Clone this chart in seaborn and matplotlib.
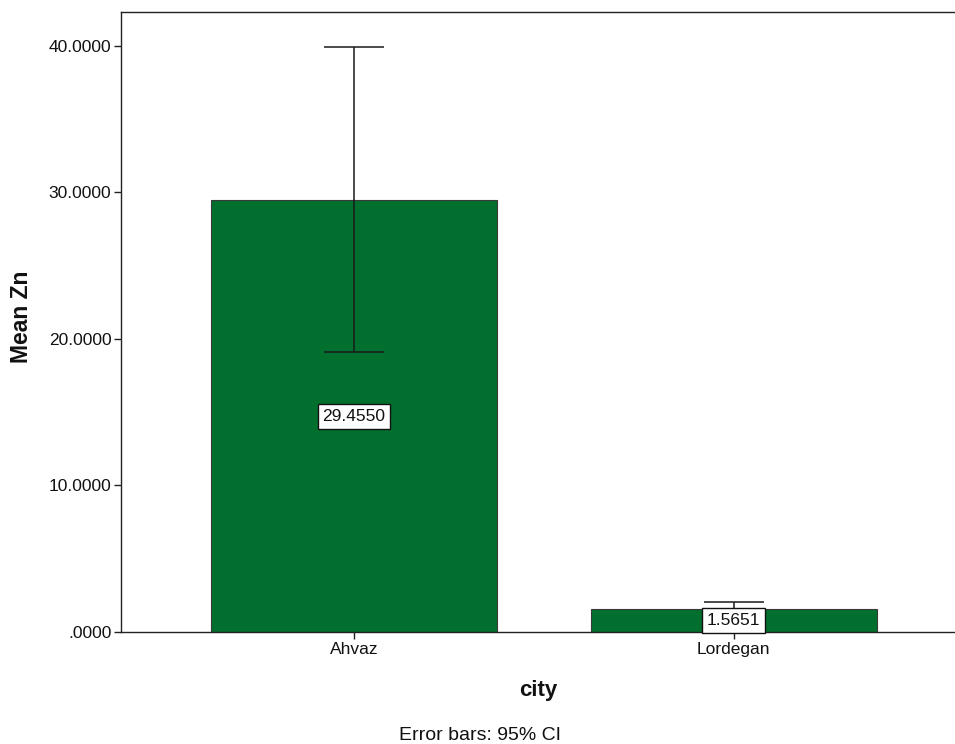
import matplotlib
matplotlib.use("Agg")
import matplotlib.pyplot as plt
import seaborn as sns
import pandas as pd

# Mean Zn per city with 95% confidence interval bounds
cities = ["Ahvaz", "Lordegan"]
mean_zn = [29.4550, 1.5651]
ci_low = [19.11, 1.08]
ci_high = [39.90, 2.05]
value_labels = ["29.4550", "1.5651"]
y_ticks = [0, 10, 20, 30, 40]
y_tick_labels = [".0000", "10.0000", "20.0000", "30.0000", "40.0000"]

sns.set_theme(style="white")
plt.rcParams["font.family"] = ["Liberation Sans", "DejaVu Sans"]

df = pd.DataFrame({"city": cities, "Zn": mean_zn})

fig = plt.figure(figsize=(9.55, 7.44), dpi=100)
ax = fig.add_axes([0.1267, 0.1505, 0.8733, 0.8334])

sns.barplot(data=df, x="city", y="Zn", order=cities, color="#01702e",
            saturation=1, width=0.753, errorbar=None,
            edgecolor="#3a3a3a", linewidth=0.8, ax=ax)

xs = list(range(len(cities)))
yerr = [[m - lo for m, lo in zip(mean_zn, ci_low)],
        [hi - m for m, hi in zip(mean_zn, ci_high)]]
ax.errorbar(xs, mean_zn, yerr=yerr, fmt="none", ecolor="#1a1a1a",
            elinewidth=1.1, capsize=21.5, capthick=1.1, zorder=3)

# value boxes at half the bar height
for x, m, lab in zip(xs, mean_zn, value_labels):
    ax.text(x, m / 2, lab, ha="center", va="center", fontsize=12.5,
            color="#111111", zorder=5,
            bbox=dict(boxstyle="square,pad=0.28", facecolor="white",
                      edgecolor="#111111", linewidth=1.0))

ax.set_xlim(-0.613, 1.582)
ax.set_ylim(0, 42.3)
ax.set_yticks(y_ticks)
ax.set_yticklabels(y_tick_labels)

for side in ["left", "bottom", "top"]:
    ax.spines[side].set_visible(True)
    ax.spines[side].set_color("#222222")
    ax.spines[side].set_linewidth(1.0)
ax.spines["right"].set_visible(False)

ax.tick_params(axis="both", which="major", direction="out", length=5,
               width=1.0, color="#222222", labelsize=12.5,
               labelcolor="#111111", pad=2, left=True, bottom=True)

ax.set_xlabel("city", fontsize=16, fontweight="bold", color="#111111")
ax.set_ylabel("Mean Zn", fontsize=16.5, fontweight="bold", color="#111111")
ax.xaxis.label.set_va("center")
ax.yaxis.label.set_va("center")
ax.xaxis.set_label_coords(0.5, -58 / 620)
ax.yaxis.set_label_coords(-99 / 834, 0.508)
ax.grid(False)

fig.text(0.503, 1 - 735 / 744, "Error bars: 95% CI", ha="center",
         va="center", fontsize=14, color="#111111")

fig.savefig("out.png", dpi=100, facecolor="white")
